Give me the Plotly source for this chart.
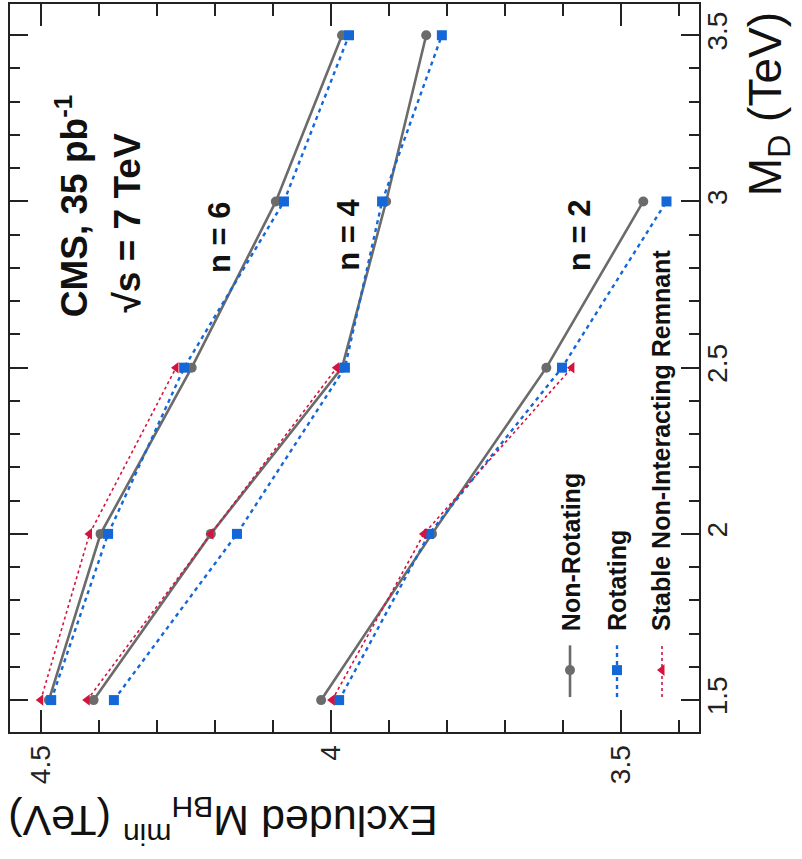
import plotly.graph_objects as go

# ---- data ----
md_values = [1.5, 2.0, 2.5, 3.0, 3.5]          # M_D (TeV)
n6_nonrot = [4.486, 4.397, 4.240, 4.095, 3.981]
n6_rot    = [4.482, 4.384, 4.253, 4.081, 3.969]
n6_snir   = [4.500, 4.416, 4.267]
n4_nonrot = [4.409, 4.207, 3.981, 3.905, 3.836]
n4_rot    = [4.374, 4.162, 3.976, 3.912, 3.809]
n4_snir   = [4.420, 4.207, 3.990]
n2_nonrot = [4.017, 3.826, 3.629, 3.462]
n2_rot    = [3.986, 3.831, 3.602, 3.422]
n2_snir   = [3.998, 3.840, 3.585]

mbh_tickvals = [4.5, 4.0, 3.5]
mbh_ticktext = ["4.5", "4", "3.5"]
md_tickvals = [1.5, 2.0, 2.5, 3.0, 3.5]
md_ticktext = ["1.5", "2", "2.5", "3", "3.5"]

series_names = ["Non-Rotating", "Rotating", "Stable Non-Interacting Remnant"]
n_labels = ["n = 6", "n = 4", "n = 2"]

GRAY = "#6b6b6b"
BLUE = "#1467d6"
RED = "#d3143f"
FONT = "Liberation Sans, Arial, sans-serif"

styles = {
    "nonrot": dict(line=dict(color=GRAY, width=2.6), marker=dict(symbol="circle", size=10, color=GRAY)),
    "rot": dict(line=dict(color=BLUE, width=2.4, dash="4px,4px"), marker=dict(symbol="square", size=10, color=BLUE)),
    "snir": dict(line=dict(color=RED, width=1.6, dash="dot"), marker=dict(symbol="triangle-left", size=10, color=RED)),
}

fig = go.Figure()

groups = [
    (n6_nonrot, n6_rot, n6_snir),
    (n4_nonrot, n4_rot, n4_snir),
    (n2_nonrot, n2_rot, n2_snir),
]
for nonrot, rot, snir in groups:
    for key, vals in (("nonrot", nonrot), ("rot", rot), ("snir", snir)):
        fig.add_trace(go.Scatter(
            x=vals, y=md_values[:len(vals)], mode="lines+markers",
            showlegend=False, hoverinfo="skip", **styles[key]))

# ---- custom rotated legend (overlay axes in paper-like units) ----
leg_x = [0.8128, 0.8810, 0.9463]
leg_y0, leg_y1, leg_ym = 0.048, 0.119, 0.085
for key, lx in zip(("nonrot", "rot", "snir"), leg_x):
    fig.add_trace(go.Scatter(x=[lx, lx], y=[leg_y0, leg_y1], mode="lines",
                             line=styles[key]["line"], xaxis="x2", yaxis="y2",
                             showlegend=False, hoverinfo="skip"))
    fig.add_trace(go.Scatter(x=[lx], y=[leg_ym], mode="markers",
                             marker=styles[key]["marker"], xaxis="x2", yaxis="y2",
                             showlegend=False, hoverinfo="skip"))

annotations = []
for name, lx in zip(series_names, [0.814, 0.880, 0.945]):
    annotations.append(dict(xref="paper", yref="paper", x=lx, y=0.1356,
                            xanchor="center", yanchor="bottom", textangle=-90,
                            text=f"<b>{name}</b>", showarrow=False,
                            font=dict(family=FONT, size=25, color="#111")))

# n labels (positions in data units)
for lab, (xv, yv) in zip(n_labels, [(4.193, 2.893), (3.969, 2.90), (3.572, 2.90)]):
    annotations.append(dict(x=xv, y=yv, xref="x", yref="y", text=f"<b>{lab}</b>",
                            textangle=-90, showarrow=False, xanchor="center", yanchor="middle",
                            font=dict(family=FONT, size=31, color="#111")))

annotations.append(dict(xref="paper", yref="paper", x=0.09, y=0.567, xanchor="center",
                        yanchor="bottom", textangle=-90, showarrow=False,
                        text="<b>CMS, 35 pb<sup>-1</sup></b>",
                        font=dict(family=FONT, size=37, color="#111")))
annotations.append(dict(xref="paper", yref="paper", x=0.171, y=0.574, xanchor="center",
                        yanchor="bottom", textangle=-90, showarrow=False,
                        text="<b>√s = 7 TeV</b>",
                        font=dict(family=FONT, size=37, color="#111")))

# axis titles
annotations.append(dict(xref="paper", yref="paper", x=1.100, y=0.733, xanchor="center",
                        yanchor="bottom", textangle=-90, showarrow=False,
                        text="M<sub>D</sub> (TeV)",
                        font=dict(family=FONT, size=46, color="#111")))
annotations.append(dict(xref="paper", yref="paper", x=0.624, y=-0.123, xanchor="right",
                        yanchor="middle", textangle=180, showarrow=False,
                        text="Excluded M<sub>BH</sub><sup>min</sup> (TeV)",
                        font=dict(family=FONT, size=43, color="#111")))

axis_common = dict(showgrid=False, zeroline=False, showline=True, linecolor="#222",
                   linewidth=2, mirror="allticks", ticks="inside", tickwidth=2,
                   tickcolor="#222", tickangle=-90,
                   tickfont=dict(family=FONT, size=28, color="#222"))

fig.update_layout(
    width=802, height=859,
    margin=dict(l=10, r=103, t=2, b=127),
    paper_bgcolor="white", plot_bgcolor="white",
    xaxis=dict(range=[4.553, 3.366], tickvals=mbh_tickvals, ticktext=mbh_ticktext,
               ticklen=22, minor=dict(ticks="inside", dtick=0.1, tick0=3.5, ticklen=12,
                                      tickwidth=2, tickcolor="#222"),
               **axis_common),
    yaxis=dict(range=[1.404, 3.594], side="right", tickvals=md_tickvals, ticktext=md_ticktext,
               ticklen=18, ticklabelstandoff=-8,
               minor=dict(ticks="inside", dtick=0.1, tick0=1.5, ticklen=10,
                          tickwidth=2, tickcolor="#222"),
               **axis_common),
    xaxis2=dict(overlaying="x", range=[0, 1], visible=False),
    yaxis2=dict(overlaying="y", range=[0, 1], visible=False),
    annotations=annotations,
    showlegend=False,
)

fig.write_html("out.html")
